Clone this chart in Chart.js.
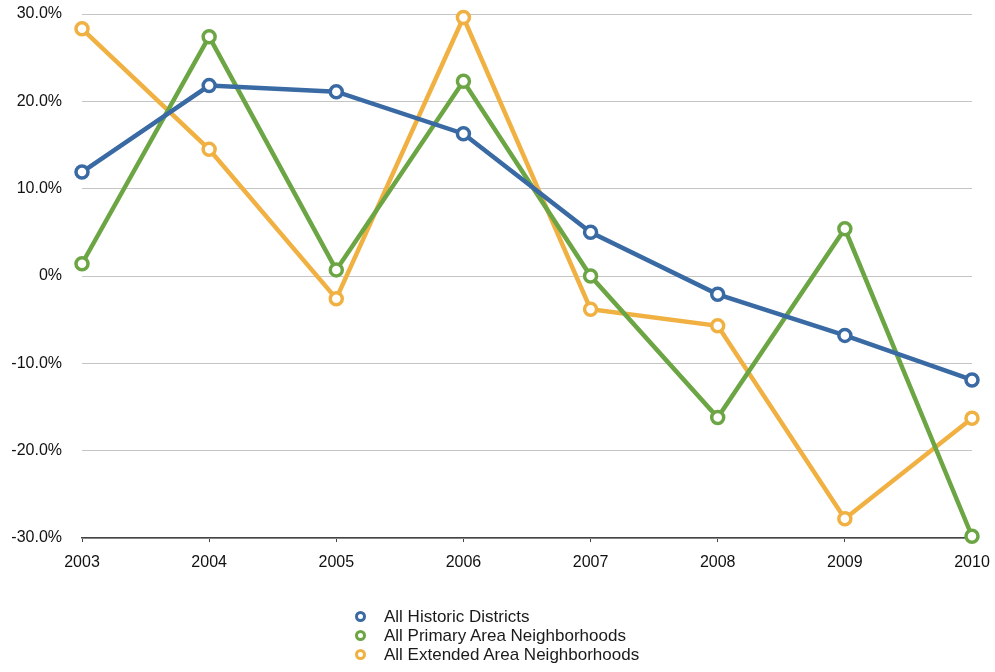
<!DOCTYPE html>
<html>
<head>
<meta charset="utf-8">
<script src="https://cdn.jsdelivr.net/npm/chart.js@4.4.1/dist/chart.umd.min.js"></script>
<style>
  html, body { margin: 0; padding: 0; background: #fff; }
  #wrap { position: relative; width: 995px; height: 672px; }
  #chart { position: absolute; left: 0; top: 0; }
  #legend { position: absolute; left: 352px; top: 607px; font-family: "Liberation Sans", Arial, sans-serif; font-size: 17px; color: #1a1a1a; line-height: 19px; }
  #legend div { position: relative; padding-left: 32px; white-space: nowrap; }
  #legend span { position: absolute; left: 3px; top: 4px; width: 5px; height: 5px; border-radius: 50%; border: 3px solid; }
</style>
</head>
<body>
<div id="wrap">
  <canvas id="chart" width="995" height="672"></canvas>
  <div id="legend"></div>
</div>
<script>
const years = ['2003', '2004', '2005', '2006', '2007', '2008', '2009', '2010'];
const historicDistricts = [11.9, 21.8, 21.1, 16.3, 5.0, -2.1, -6.8, -11.9];
const primaryArea = [1.4, 27.4, 0.7, 22.3, 0.0, -16.2, 5.4, -29.8];
const extendedArea = [28.3, 14.5, -2.6, 29.6, -3.8, -5.7, -27.8, -16.3];
const seriesNames = ['All Historic Districts', 'All Primary Area Neighborhoods', 'All Extended Area Neighborhoods'];
const seriesColors = ['#3a6aa3', '#6ca544', '#f0b142'];

const seriesValues = [historicDistricts, primaryArea, extendedArea];

const datasets = seriesValues.map((vals, i) => ({
  label: seriesNames[i],
  data: vals,
  borderColor: seriesColors[i],
  backgroundColor: '#fff',
  pointBackgroundColor: '#fff',
  pointBorderColor: seriesColors[i],
  pointBorderWidth: 3.5,
  pointRadius: 6,
  borderWidth: 4.5,
  tension: 0,
  clip: false
}));

const font = { family: '"Liberation Sans", Arial, sans-serif', size: 16 };

new Chart(document.getElementById('chart'), {
  type: 'line',
  data: { labels: years, datasets: datasets },
  options: {
    responsive: false,
    animation: false,
    layout: { autoPadding: false, padding: { top: 14, right: 23, left: 0, bottom: 0 } },
    plugins: { legend: { display: false }, tooltip: { enabled: false } },
    scales: {
      x: {
        offset: false,
        grid: { display: true, drawOnChartArea: false, color: '#444', tickLength: 4, lineWidth: 1 },
        border: { display: true, color: '#444', width: 1.5 },
        ticks: { color: '#111', font: font, padding: 11, maxRotation: 0 },
        // keep the plot edges fixed; labels may hang past them
        afterFit: s => {
          s.height = 672 - 538;
          s.paddingLeft = 0;
          s.paddingRight = 0;
        }
      },
      y: {
        min: -30,
        max: 30,
        grid: { color: '#c4c4c4', lineWidth: 1, drawTicks: false },
        border: { display: false },
        ticks: {
          stepSize: 10,
          color: '#111',
          font: font,
          padding: 20,
          callback: v => v === 0 ? '0%' : v.toFixed(1) + '%'
        },
        afterFit: s => {
          s.width = 82;
          s.paddingTop = 0;
          s.paddingBottom = 0;
        }
      }
    }
  }
});

const legend = document.getElementById('legend');
seriesNames.forEach((name, i) => {
  const row = document.createElement('div');
  const mark = document.createElement('span');
  mark.style.borderColor = seriesColors[i];
  row.appendChild(mark);
  row.appendChild(document.createTextNode(name));
  legend.appendChild(row);
});
</script>
</body>
</html>
